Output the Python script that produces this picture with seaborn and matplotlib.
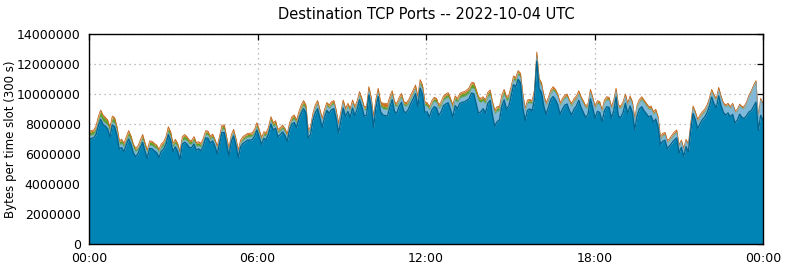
import numpy as np
import pandas as pd
import matplotlib
matplotlib.use("Agg")
import matplotlib.pyplot as plt
import seaborn as sns

# ---------------- data (values in millions of bytes per 300 s slot) ----------------
title = "Destination TCP Ports -- 2022-10-04 UTC"
y_label = "Bytes per time slot (300 s)"
x_tick_hours = [0, 6, 12, 18, 24]
x_tick_labels = ["00:00", "06:00", "12:00", "18:00", "00:00"]
y_ticks = [0, 2000000, 4000000, 6000000, 8000000, 10000000, 12000000, 14000000]

# top of the whole stack
total_m = [
    7.49, 7.56, 7.6, 7.87, 8.49, 8.93, 8.6, 8.45, 8.27, 7.78, 8.53, 8.42, 7.82, 6.9, 6.98, 6.71, 7.16, 7.56, 7.2, 6.67,
    6.38, 6.53, 6.93, 7.3, 6.76, 6.27, 6.87, 6.85, 6.71, 6.6, 6.31, 6.67, 6.82, 7.16, 7.82, 7.49, 6.71, 6.98, 6.71, 6.16,
    7.16, 7.3, 7.16, 6.93, 6.9, 7.16, 6.76, 6.82, 6.71,
    7.04, 7.55, 7.53, 7.2, 7.33, 6.98, 6.53, 7.2, 7.93, 7.93, 7.16, 6.38, 7.27, 7.64, 7.04, 6.27, 6.93, 7.16, 7.27, 7.38,
    7.38, 7.42, 7.64, 8.09, 7.6, 7.11, 7.49, 7.42, 7.82, 8.49, 8.09, 8.22, 7.64, 7.76, 7.93, 7.71, 7.33, 8.09, 8.49, 8.6,
    8.27, 8.82, 9.27, 9.56, 9.27, 7.6, 7.82, 8.71,
    9.27, 9.56, 8.98, 8.38, 8.98, 9.44, 9.27, 9.49, 9.56, 8.93, 8.04, 8.82, 9.6, 9.04, 9.38, 9.04, 9.6, 9.16, 9.56, 10.16,
    9.71, 9.16, 9.16, 10.49, 9.78, 8.49, 9.64, 10.38, 9.49, 9.38, 9.38, 9.33, 9.82, 10.22, 9.49, 9.38, 9.78, 10.04, 9.49, 9.42,
    9.6, 9.93, 10.27, 10.6, 9.82, 10.96, 10.6, 9.49,
    9.42, 9.16, 9.56, 9.78, 9.71, 9.27, 9.49, 9.87, 10.0, 10.09, 9.71, 9.27, 9.87, 9.71, 10.04, 10.13, 10.16, 10.27, 10.42, 10.76,
    10.76, 10.31, 9.82, 9.71, 9.82, 9.6, 10.11, 10.27, 9.49, 8.93, 9.16, 9.16, 9.93, 10.31, 9.82, 9.93, 10.49, 11.2, 11.11, 11.56,
    11.38, 10.04, 9.04, 9.6, 9.64, 9.56, 10.27, 12.8,
    11.04, 10.76, 9.93, 9.42, 9.78, 10.27, 10.49, 10.31, 10.0, 9.42, 9.71, 9.93, 10.0, 9.6, 9.38, 9.71, 9.87, 10.22, 9.82, 9.53,
    9.2, 9.38, 10.31, 9.78, 9.16, 9.56, 9.49, 8.93, 9.6, 9.82, 9.78, 9.16, 9.6, 10.38, 9.27, 9.2, 9.49, 10.0, 9.38, 9.87,
    9.49, 8.38, 9.27, 9.64, 9.82, 9.6, 9.38, 9.16,
    9.2, 8.82, 8.98, 8.49, 7.16, 7.38, 7.44, 6.89, 7.04, 7.27, 7.47, 7.6, 6.6, 6.93, 6.38, 6.98, 6.67, 8.04, 9.2, 8.82,
    8.31, 8.6, 8.82, 8.98, 9.27, 9.71, 10.31, 9.93, 9.71, 10.44, 9.87, 9.42, 9.27, 9.38, 9.16, 9.38, 8.89, 8.98, 9.33, 9.16,
    9.2, 9.49, 9.93, 10.22, 10.6, 10.89, 8.49, 9.71, 9.38,
]

layer_light_m = [
    0.25, 0.22, 0.2, 0.2, 0.2, 0.18, 0.2, 0.2, 0.22, 0.3, 0.2, 0.2, 0.25, 0.3, 0.25, 0.3, 0.2, 0.18, 0.22, 0.3,
    0.3, 0.25, 0.2, 0.18, 0.25, 0.3, 0.2, 0.2, 0.22, 0.25, 0.3, 0.22, 0.2, 0.2, 0.15, 0.2, 0.3, 0.2, 0.25, 0.3,
    0.2, 0.18, 0.2, 0.22, 0.2, 0.2, 0.25, 0.2, 0.22,
    0.25, 0.2, 0.2, 0.22, 0.2, 0.25, 0.3, 0.2, 0.18, 0.2, 0.25, 0.3, 0.2, 0.18, 0.22, 0.3, 0.22, 0.2, 0.2, 0.2,
    0.2, 0.2, 0.18, 0.18, 0.22, 0.25, 0.2, 0.2, 0.2, 0.18, 0.2, 0.2, 0.25, 0.22, 0.2, 0.22, 0.25, 0.2, 0.2, 0.2,
    0.22, 0.2, 0.2, 0.18, 0.2, 0.35, 0.3, 0.22,
    0.3, 0.28, 0.35, 0.4, 0.3, 0.28, 0.3, 0.28, 0.28, 0.35, 0.45, 0.35, 0.28, 0.3, 0.3, 0.35, 0.28, 0.35, 0.3, 0.25,
    0.3, 0.4, 0.35, 0.25, 0.35, 0.5, 0.3, 0.25, 0.35, 0.4, 0.4, 0.4, 0.35, 0.3, 0.4, 0.4, 0.35, 0.3, 0.4, 0.4,
    0.35, 0.3, 0.3, 0.28, 0.4, 0.25, 0.3, 0.45,
    0.35, 0.45, 0.35, 0.35, 0.35, 0.45, 0.4, 0.35, 0.35, 0.35, 0.45, 0.55, 0.35, 0.4, 0.35, 0.35, 0.35, 0.35, 0.35, 0.3,
    0.35, 0.6, 0.8, 0.6, 0.5, 0.6, 0.4, 0.35, 0.6, 0.8, 0.7, 0.6, 0.4, 0.35, 0.5, 0.45, 0.35, 0.3, 0.35, 0.3,
    0.35, 0.7, 0.6, 0.45, 0.4, 0.45, 0.35, 0.3,
    0.4, 0.4, 0.5, 0.55, 0.45, 0.4, 0.4, 0.45, 0.5, 0.55, 0.5, 0.45, 0.45, 0.5, 0.55, 0.5, 0.45, 0.4, 0.5, 0.55,
    0.6, 0.5, 0.4, 0.5, 0.6, 0.5, 0.5, 0.6, 0.5, 0.45, 0.45, 0.6, 0.5, 0.35, 0.55, 0.6, 0.5, 0.4, 0.5, 0.45,
    0.5, 0.6, 0.55, 0.45, 0.45, 0.5, 0.5, 0.5,
    0.45, 0.5, 0.45, 0.5, 0.35, 0.35, 0.35, 0.4, 0.35, 0.35, 0.35, 0.35, 0.4, 0.35, 0.4, 0.35, 0.4, 0.35, 0.3, 0.35,
    0.45, 0.4, 0.35, 0.35, 0.35, 0.35, 0.3, 0.4, 0.45, 0.35, 0.45, 0.5, 0.55, 0.5, 0.55, 0.6, 0.7, 0.6, 0.55, 0.6,
    0.7, 0.8, 1.0, 1.2, 1.3, 1.3, 0.8, 1.0, 1.0,
]

layer_green_m = [
    0.22, 0.22, 0.25, 0.28, 0.32, 0.35, 0.33, 0.3, 0.3, 0.28, 0.3, 0.3, 0.28, 0.22, 0.22, 0.2, 0.25, 0.28, 0.25, 0.22,
    0.2, 0.2, 0.22, 0.25, 0.22, 0.2, 0.22, 0.22, 0.2, 0.2, 0.18, 0.2, 0.22, 0.24, 0.28, 0.26, 0.2, 0.22, 0.2, 0.18,
    0.22, 0.24, 0.22, 0.2, 0.2, 0.22, 0.2, 0.2, 0.2,
    0.18, 0.2, 0.2, 0.18, 0.18, 0.16, 0.15, 0.18, 0.22, 0.2, 0.16, 0.14, 0.16, 0.18, 0.16, 0.14, 0.16, 0.18, 0.18, 0.18,
    0.18, 0.18, 0.2, 0.22, 0.18, 0.16, 0.18, 0.18, 0.2, 0.22, 0.2, 0.2, 0.16, 0.18, 0.18, 0.16, 0.16, 0.18, 0.2, 0.2,
    0.18, 0.2, 0.22, 0.24, 0.2, 0.14, 0.15, 0.18,
    0.15, 0.16, 0.14, 0.12, 0.14, 0.16, 0.15, 0.16, 0.16, 0.14, 0.12, 0.14, 0.16, 0.14, 0.15, 0.14, 0.16, 0.14, 0.16, 0.18,
    0.16, 0.14, 0.14, 0.18, 0.16, 0.12, 0.16, 0.18, 0.16, 0.18, 0.2, 0.2, 0.18, 0.18, 0.16, 0.16, 0.16, 0.18, 0.16, 0.16,
    0.16, 0.16, 0.18, 0.18, 0.16, 0.2, 0.2, 0.16,
    0.18, 0.18, 0.2, 0.2, 0.2, 0.18, 0.2, 0.22, 0.22, 0.22, 0.2, 0.18, 0.22, 0.2, 0.22, 0.24, 0.24, 0.25, 0.28, 0.3,
    0.3, 0.26, 0.22, 0.22, 0.22, 0.2, 0.24, 0.25, 0.22, 0.2, 0.22, 0.22, 0.24, 0.26, 0.22, 0.22, 0.2, 0.18, 0.18, 0.18,
    0.18, 0.14, 0.14, 0.16, 0.16, 0.16, 0.18, 0.2,
    0.15, 0.14, 0.12, 0.12, 0.12, 0.14, 0.14, 0.14, 0.12, 0.12, 0.12, 0.12, 0.12, 0.12, 0.12, 0.12, 0.12, 0.14, 0.12, 0.12,
    0.1, 0.12, 0.14, 0.12, 0.1, 0.12, 0.12, 0.1, 0.12, 0.12, 0.12, 0.1, 0.12, 0.14, 0.1, 0.1, 0.12, 0.12, 0.1, 0.12,
    0.12, 0.08, 0.1, 0.1, 0.12, 0.12, 0.1, 0.1,
    0.1, 0.1, 0.1, 0.08, 0.08, 0.08, 0.08, 0.06, 0.06, 0.08, 0.08, 0.08, 0.06, 0.06, 0.06, 0.06, 0.06, 0.08, 0.1, 0.08,
    0.08, 0.08, 0.08, 0.08, 0.08, 0.08, 0.1, 0.08, 0.08, 0.1, 0.08, 0.06, 0.06, 0.06, 0.06, 0.06, 0.05, 0.05, 0.05, 0.05,
    0.05, 0.05, 0.05, 0.05, 0.05, 0.05, 0.05, 0.05, 0.05,
]

layer_orange_m = [
    0.08, 0.08, 0.08, 0.1, 0.1, 0.1, 0.1, 0.1, 0.08, 0.08, 0.1, 0.1, 0.08, 0.06, 0.08, 0.06, 0.08, 0.1, 0.08, 0.06,
    0.06, 0.06, 0.08, 0.1, 0.08, 0.06, 0.08, 0.08, 0.08, 0.06, 0.06, 0.08, 0.08, 0.08, 0.1, 0.1, 0.06, 0.08, 0.08, 0.06,
    0.08, 0.1, 0.08, 0.08, 0.08, 0.08, 0.06, 0.08, 0.08,
    0.08, 0.08, 0.08, 0.08, 0.08, 0.06, 0.06, 0.08, 0.1, 0.1, 0.08, 0.06, 0.08, 0.08, 0.06, 0.06, 0.08, 0.08, 0.08, 0.08,
    0.08, 0.08, 0.08, 0.1, 0.08, 0.06, 0.08, 0.08, 0.08, 0.1, 0.1, 0.1, 0.08, 0.08, 0.08, 0.08, 0.08, 0.1, 0.1, 0.1,
    0.1, 0.1, 0.12, 0.12, 0.1, 0.06, 0.08, 0.1,
    0.1, 0.1, 0.1, 0.08, 0.1, 0.1, 0.1, 0.1, 0.1, 0.1, 0.08, 0.1, 0.1, 0.1, 0.1, 0.1, 0.1, 0.1, 0.1, 0.12,
    0.1, 0.1, 0.1, 0.12, 0.1, 0.08, 0.1, 0.12, 0.15, 0.2, 0.22, 0.2, 0.15, 0.12, 0.1, 0.1, 0.1, 0.12, 0.1, 0.1,
    0.1, 0.1, 0.12, 0.12, 0.1, 0.12, 0.12, 0.1,
    0.08, 0.08, 0.08, 0.08, 0.08, 0.08, 0.08, 0.08, 0.1, 0.1, 0.08, 0.08, 0.08, 0.08, 0.1, 0.1, 0.1, 0.1, 0.1, 0.1,
    0.1, 0.1, 0.08, 0.08, 0.08, 0.08, 0.1, 0.1, 0.08, 0.08, 0.08, 0.08, 0.1, 0.1, 0.08, 0.08, 0.1, 0.1, 0.1, 0.1,
    0.1, 0.08, 0.08, 0.08, 0.08, 0.08, 0.1, 0.12,
    0.12, 0.12, 0.1, 0.1, 0.1, 0.1, 0.12, 0.1, 0.1, 0.1, 0.1, 0.1, 0.1, 0.1, 0.1, 0.1, 0.1, 0.1, 0.1, 0.1,
    0.08, 0.1, 0.1, 0.1, 0.08, 0.1, 0.1, 0.08, 0.1, 0.1, 0.1, 0.08, 0.1, 0.1, 0.08, 0.08, 0.1, 0.1, 0.08, 0.1,
    0.1, 0.08, 0.08, 0.1, 0.1, 0.1, 0.1, 0.1,
    0.1, 0.1, 0.1, 0.1, 0.1, 0.1, 0.1, 0.08, 0.08, 0.1, 0.1, 0.1, 0.08, 0.08, 0.08, 0.08, 0.08, 0.1, 0.1, 0.1,
    0.1, 0.1, 0.1, 0.1, 0.1, 0.1, 0.12, 0.1, 0.1, 0.12, 0.1, 0.08, 0.08, 0.08, 0.08, 0.08, 0.08, 0.08, 0.08, 0.08,
    0.08, 0.08, 0.08, 0.08, 0.08, 0.08, 0.06, 0.08, 0.08,
]

# ---------------- build table ----------------
n = len(total_m)
hours = np.linspace(0, 24, n)
total = np.array(total_m) * 1e6
light = np.array(layer_light_m) * 1e6
green = np.array(layer_green_m) * 1e6
orange = np.array(layer_orange_m) * 1e6
main = total - light - green - orange
df = pd.DataFrame({"hour": hours, "main": main, "light": light, "green": green, "orange": orange})
df["top_main"] = df["main"]
df["top_light"] = df["top_main"] + df["light"]
df["top_green"] = df["top_light"] + df["green"]
df["top_all"] = df["top_green"] + df["orange"]

# ---------------- style ----------------
sns.set_style("white")
plt.rcParams["font.family"] = ["DejaVu Sans"]
plt.rcParams["text.color"] = "black"
plt.rcParams["axes.labelcolor"] = "black"
plt.rcParams["xtick.color"] = "black"
plt.rcParams["ytick.color"] = "black"

c_main, c_light, c_green, c_orange = "#0083b5", "#80b8d9", "#5fa02a", "#cc731c"

fig = plt.figure(figsize=(7.85, 2.68), dpi=100)
ax = fig.add_axes([89 / 785, 1 - 244 / 268, (763 - 89) / 785, (244 - 34) / 268])

ax.stackplot(df["hour"], df["main"], df["light"], df["green"], df["orange"],
             colors=[c_main, c_light, c_green, c_orange], linewidth=0, zorder=2)

sns.lineplot(x=df["hour"], y=df["top_all"], color="#c0651a", lw=0.6, ax=ax, zorder=3)
sns.lineplot(x=df["hour"], y=df["top_light"], color="#70acd0", lw=0.5, ax=ax, zorder=3)
sns.lineplot(x=df["hour"], y=df["top_main"], color="#006690", lw=1.0, ax=ax, zorder=3)

ax.set_xlim(0, 24)
ax.set_ylim(0, 14000000)
ax.set_xticks(x_tick_hours)
ax.set_xticklabels(x_tick_labels)
ax.set_yticks(y_ticks)
ax.set_yticklabels([str(v) for v in y_ticks])

ax.set_axisbelow(True)
ax.grid(True, color="#a8a8a8", linestyle=(0, (1, 3)), linewidth=0.9, zorder=0)

ax.tick_params(direction="in", length=4.5, width=0.9, top=True, right=True,
               labelsize=9, colors="black", pad=6)
for s in ax.spines.values():
    s.set_color("black")
    s.set_linewidth(1.0)
    s.set_zorder(5)

ax.set_xlabel("")
ax.set_ylabel(y_label, fontsize=8.5, labelpad=0, color="black")
ax.set_title(title, fontsize=10.5, pad=11, color="black")

fig.savefig("out.png", dpi=100)
